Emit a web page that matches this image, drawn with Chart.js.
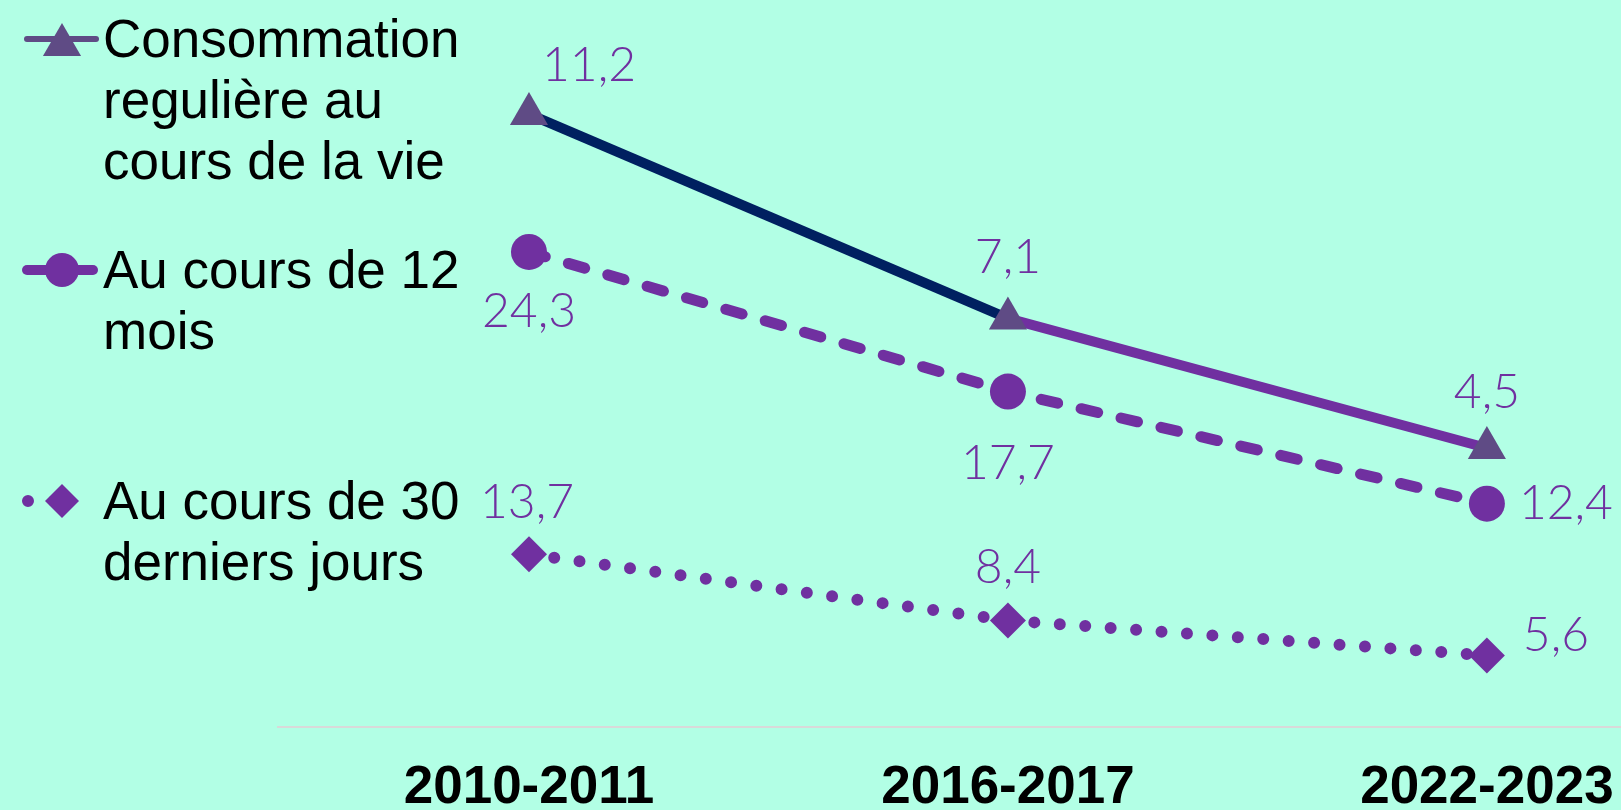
<!DOCTYPE html>
<html lang="fr">
<head>
<meta charset="utf-8">
<script src="https://cdn.jsdelivr.net/npm/chart.js@4.4.1/dist/chart.umd.min.js"></script>
<style>
  html, body { margin: 0; padding: 0; background: #b2ffe5; }
  #wrap { position: relative; width: 1621px; height: 810px; }
</style>
</head>
<body>
<div id="wrap"><canvas id="usageChart"></canvas></div>
<script>
// data
const periods = ['2010-2011', '2016-2017', '2022-2023'];
const seriesNames = [
  ['Consommation', 'regulière au', 'cours de la vie'],
  ['Au cours de 12', 'mois'],
  ['Au cours de 30', 'derniers jours']
];
const regularLife = [11.2, 7.1, 4.5];
const last12Months = [24.3, 17.7, 12.4];
const last30Days = [13.7, 8.4, 5.6];

const PURPLE = '#7030a0';
const NAVY = '#002060';
const MAUVE = '#5f4b85';

function toPoints(values) {
  return values.map((v, i) => ({ x: i, y: v }));
}

function drawMarker(ctx, style, x, y, r, color) {
  ctx.fillStyle = color;
  ctx.beginPath();
  if (style === 'triangle') {
    ctx.moveTo(x, y - r);
    ctx.lineTo(x + r * 0.866, y + r / 2);
    ctx.lineTo(x - r * 0.866, y + r / 2);
  } else if (style === 'rectRot') {
    ctx.moveTo(x, y - r);
    ctx.lineTo(x + r, y);
    ctx.lineTo(x, y + r);
    ctx.lineTo(x - r, y);
  } else {
    ctx.arc(x, y, r, 0, Math.PI * 2);
  }
  ctx.closePath();
  ctx.fill();
}

// number labels next to each point
const valueLabels = {
  id: 'valueLabels',
  afterDatasetsDraw(chart, args, opts) {
    const ctx = chart.ctx;
    ctx.save();
    ctx.font = '300 48px Lato, "Open Sans", sans-serif';
    ctx.fillStyle = PURPLE;
    ctx.textAlign = 'center';
    ctx.textBaseline = 'alphabetic';
    chart.data.datasets.forEach((ds, i) => {
      const meta = chart.getDatasetMeta(i);
      meta.data.forEach((pt, j) => {
        const [dx, dy] = opts.offsets[i][j];
        const txt = String(ds.data[j].y).replace('.', ',');
        ctx.fillText(txt, pt.x + dx, pt.y + dy + 17);
      });
    });
    ctx.restore();
  }
};

// legend on the left, with wrapped text
const sideLegend = {
  id: 'sideLegend',
  afterDraw(chart, args, opts) {
    const ctx = chart.ctx;
    chart.data.datasets.forEach((ds, i) => {
      const row = opts.rows[i];
      ctx.save();
      ctx.strokeStyle = row.lineColor;
      ctx.lineWidth = row.lineWidth;
      ctx.lineCap = 'round';
      ctx.setLineDash(row.dash);
      ctx.beginPath();
      ctx.moveTo(row.x1, row.y);
      ctx.lineTo(row.x2, row.y);
      ctx.stroke();
      ctx.setLineDash([]);
      drawMarker(ctx, ds.pointStyle, 62, row.y + row.markerDy, row.r, ds.pointBackgroundColor);
      ctx.fillStyle = '#000';
      ctx.font = '53px "Liberation Sans", Arial, sans-serif';
      ctx.textAlign = 'left';
      ctx.textBaseline = 'alphabetic';
      ds.label.forEach((line, k) => {
        ctx.fillText(line, 103, row.y + 18 + k * 61);
      });
      ctx.restore();
    });
  }
};

new Chart(document.getElementById('usageChart'), {
  type: 'line',
  data: {
    datasets: [{
      label: seriesNames[0],
      data: toPoints(regularLife),
      yAxisID: 'y1',
      borderWidth: 10,
      segment: {
        borderColor: c => c.p0DataIndex === 0 ? NAVY : PURPLE
      },
      borderColor: PURPLE,
      pointStyle: 'triangle',
      pointRadius: 22,
      pointHoverRadius: 22,
      pointBorderWidth: 0,
      pointBackgroundColor: MAUVE,
      clip: false
    }, {
      label: seriesNames[1],
      data: toPoints(last12Months),
      yAxisID: 'y2',
      borderWidth: 11,
      borderColor: PURPLE,
      borderDash: [17, 24],
      borderCapStyle: 'round',
      pointStyle: 'circle',
      pointRadius: 18,
      pointHoverRadius: 18,
      pointBorderWidth: 0,
      pointBackgroundColor: PURPLE,
      clip: false
    }, {
      label: seriesNames[2],
      data: toPoints(last30Days),
      yAxisID: 'y3',
      borderWidth: 12,
      borderColor: PURPLE,
      borderDash: [0, 25.5],
      borderCapStyle: 'round',
      pointStyle: 'rectRot',
      pointRadius: 18,
      pointHoverRadius: 18,
      pointBorderWidth: 0,
      pointBackgroundColor: PURPLE,
      clip: false
    }]
  },
  options: {
    responsive: true,
    maintainAspectRatio: false,
    animation: false,
    events: [],
    layout: { autoPadding: false, padding: { left: 278, right: 0, top: 0, bottom: 0 } },
    scales: {
      x: {
        type: 'linear',
        min: -0.524,
        max: 2.28,
        grid: { display: false, drawTicks: false },
        border: { display: true, color: '#d9d9d9', width: 2 },
        afterBuildTicks: axis => {
          axis.ticks = periods.map((p, i) => ({ value: i }));
        },
        afterFit: axis => { axis.height = 83; },
        ticks: {
          autoSkip: false,
          maxRotation: 0,
          padding: 0,
          color: '#000',
          font: { family: '"Liberation Sans", Arial, sans-serif', size: 53, weight: 'bold', lineHeight: '122px' },
          callback: v => periods[v]
        }
      },
      y1: { display: false, min: -1.10, max: 13.49 },
      y2: { display: false, min: 1.84, max: 36.21 },
      y3: { display: false, min: -0.13, max: 58.07 }
    },
    plugins: {
      legend: { display: false },
      tooltip: { enabled: false },
      valueLabels: {
        offsets: [
          [[60, -50], [0, -62], [0, -57]],
          [[0, 58], [0, 70], [79, -2]],
          [[-2, -53], [0, -54], [69, -21]]
        ]
      },
      sideLegend: {
        rows: [
          { y: 39, markerDy: 6, r: 22, lineColor: MAUVE, lineWidth: 6, dash: [], x1: 27, x2: 96 },
          { y: 270, markerDy: 0, r: 17, lineColor: PURPLE, lineWidth: 10, dash: [], x1: 27, x2: 93 },
          { y: 501, markerDy: 0, r: 17, lineColor: PURPLE, lineWidth: 12, dash: [0, 26], x1: 28, x2: 80 }
        ]
      }
    }
  },
  plugins: [valueLabels, sideLegend]
});
</script>
</body>
</html>
